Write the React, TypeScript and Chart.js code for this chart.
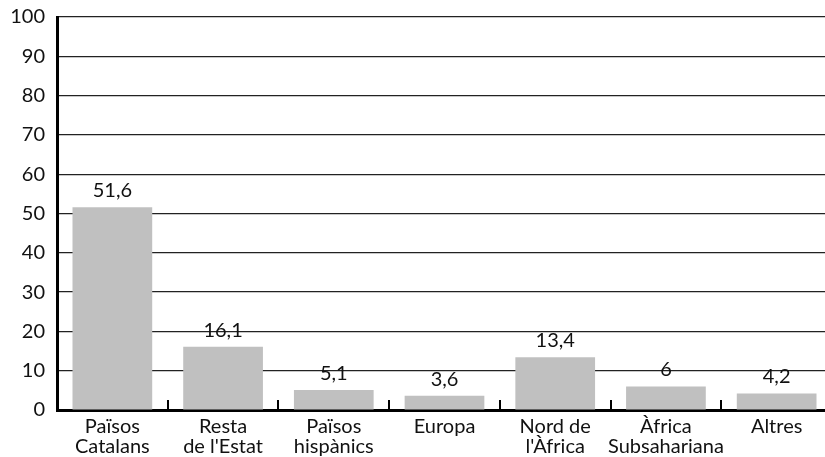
import React, { useEffect, useRef } from "react";
import { Chart, registerables } from "chart.js";
Chart.register(...registerables);

const categories: string[][] = [
  ["Països", "Catalans"],
  ["Resta", "de l'Estat"],
  ["Països", "hispànics"],
  ["Europa"],
  ["Nord de", "l'Àfrica"],
  ["Àfrica", "Subsahariana"],
  ["Altres"],
];
const values: number[] = [51.6, 16.1, 5.1, 3.6, 13.4, 6, 4.2];
const valueLabels: string[] = ["51,6", "16,1", "5,1", "3,6", "13,4", "6", "4,2"];

const FONT = "Lato, 'Open Sans', sans-serif";

export default function App() {
  const ref = useRef<HTMLCanvasElement | null>(null);
  useEffect(() => {
    if (!ref.current) return;
    const boundaryTicks = {
      id: "boundaryTicks",
      afterDraw(chart: any) {
        const ctx = chart.ctx;
        const x = chart.scales.x;
        const bottom = chart.chartArea.bottom;
        ctx.save();
        ctx.strokeStyle = "#000";
        ctx.lineWidth = 2;
        for (let i = 1; i < categories.length; i++) {
          const px = Math.round((x.getPixelForTick(i - 1) + x.getPixelForTick(i)) / 2);
          ctx.beginPath();
          ctx.moveTo(px, bottom);
          ctx.lineTo(px, bottom - 10);
          ctx.stroke();
        }
        ctx.restore();
      },
    };
    const valueLabelPlugin = {
      id: "valueLabels",
      afterDatasetsDraw(chart: any) {
        const ctx = chart.ctx;
        const meta = chart.getDatasetMeta(0);
        ctx.save();
        ctx.fillStyle = "#111";
        ctx.font = `20px ${FONT}`;
        ctx.textAlign = "center";
        ctx.textBaseline = "alphabetic";
        meta.data.forEach((bar: any, i: number) => {
          ctx.fillText(valueLabels[i], bar.x, bar.y - 10);
        });
        ctx.restore();
      },
    };
    const chart = new Chart(ref.current, {
      type: "bar",
      data: {
        labels: categories,
        datasets: [
          {
            data: values,
            backgroundColor: "#c0c0c0",
            borderWidth: 0,
            categoryPercentage: 1,
            barPercentage: 0.72,
          },
        ],
      },
      options: {
        animation: false,
        responsive: true,
        maintainAspectRatio: false,
        layout: { padding: { top: 17, right: 0, left: 0, bottom: 0 } },
        plugins: { legend: { display: false }, tooltip: { enabled: false } },
        scales: {
          x: {
            grid: { display: false, drawTicks: false },
            border: { display: true, color: "#000", width: 3 },
            ticks: {
              color: "#111",
              font: { family: FONT, size: 20, lineHeight: 1.0 },
              padding: 7,
              maxRotation: 0,
              autoSkip: false,
            },
            afterFit(scale: any) {
              scale.height = 47;
              scale.paddingLeft = 0;
              scale.paddingRight = 0;
            },
          },
          y: {
            min: 0,
            max: 100,
            ticks: {
              stepSize: 10,
              color: "#111",
              font: { family: FONT, size: 20 },
              padding: 12,
            },
            grid: { color: "#222", lineWidth: 1.2, drawTicks: false },
            border: { display: true, color: "#000", width: 3 },
            afterFit(scale: any) {
              scale.width = 57;
              scale.paddingTop = 0;
              scale.paddingBottom = 0;
            },
          },
        },
      },
      plugins: [boundaryTicks, valueLabelPlugin],
    });
    return () => chart.destroy();
  }, []);
  return (
    <div style={{ position: "fixed", left: 0, top: 0, width: 825, height: 457, overflow: "hidden", background: "#fff" }}>
      <div style={{ position: "absolute", left: 0, top: 0, width: 832, height: 457 }}>
        <canvas ref={ref} />
      </div>
    </div>
  );
}
